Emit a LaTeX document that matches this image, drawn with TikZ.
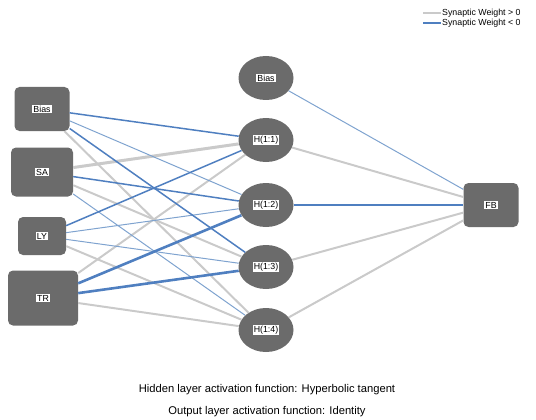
\documentclass[tikz,border=0pt]{standalone}
\usepackage{fontspec}
\setmainfont{Liberation Sans}
\usetikzlibrary{shapes.geometric}
\definecolor{nodegray}{HTML}{6B6B6B}
\definecolor{posw}{HTML}{CACACA}
\definecolor{negw}{HTML}{4F7FC0}
\definecolor{negl}{HTML}{7FA3CF}
\begin{document}
\begin{tikzpicture}[x=1pt,y=-1pt,
  inbox/.style={fill=nodegray, draw=none, rounded corners=5pt, inner sep=0pt},
  hid/.style={ellipse, fill=nodegray, draw=none, minimum width=55pt, minimum height=44pt, inner sep=0pt},
  lab/.style={fill=white, inner sep=1pt, font=\fontsize{8.8}{9}\selectfont},
  pthick/.style={posw, line width=3pt},
  pmed/.style={posw, line width=2pt},
  nthick/.style={negw, line width=2.6pt},
  nmed/.style={negw, line width=1.5pt},
  nthin/.style={negl, line width=1pt},
  legtext/.style={anchor=west, inner sep=1pt, font=\fontsize{8.8}{9}\selectfont},
  captext/.style={inner sep=0pt, font=\fontsize{11.2}{12}\selectfont}
]
\useasboundingbox (0,0) rectangle (536,420);
% input layer
\node[inbox, minimum width=55pt, minimum height=44pt] (ib) at (42,109) {};
\node[inbox, minimum width=62pt, minimum height=49pt] (sa) at (42,172) {};
\node[inbox, minimum width=48pt, minimum height=38pt] (ly) at (42,236) {};
\node[inbox, minimum width=70pt, minimum height=55pt] (tr) at (43,298) {};
% hidden layer
\node[hid] (hb) at (266,78) {};
\node[hid] (h1) at (266,140) {};
\node[hid] (h2) at (266,205) {};
\node[hid] (h3) at (266,267) {};
\node[hid] (h4) at (266,330) {};
% output
\node[inbox, minimum width=55pt, minimum height=44pt] (fb) at (491,205) {};
% connections input -> hidden
\draw[pmed] (ib) -- (h4);
\draw[pthick] (sa) -- (h1);
\draw[pmed] (sa) -- (h3);
\draw[pmed] (ly) -- (h4);
\draw[pmed] (tr) -- (h1);
\draw[pmed] (tr) -- (h4);
\draw[nthin] (ib) -- (h2);
\draw[nthin] (sa) -- (h4);
\draw[nthin] (ly) -- (h2);
\draw[nthin] (ly) -- (h3);
\draw[nmed] (ib) -- (h1);
\draw[nmed] (ib) -- (h3);
\draw[nmed] (sa) -- (h2);
\draw[nmed] (ly) -- (h1);
\draw[nthick] (tr) -- (h2);
\draw[nthick] (tr) -- (h3);
% hidden -> output
\draw[nthin] (hb) -- (fb);
\draw[pmed] (h1) -- (fb);
\draw[nthick] (h2) -- (fb);
\draw[pmed] (h3) -- (fb);
\draw[pmed] (h4) -- (fb);
% labels
\node[lab] (ibl) at (ib) {Bias};
\node[lab] (sal) at (sa) {SA};
\node[lab] (lyl) at (ly) {LY};
\node[lab] (trl) at (tr) {TR};
\node[lab] (hbl) at (hb) {Bias};
\node[lab] (h1l) at (h1) {H(1:1)};
\node[lab] (h2l) at (h2) {H(1:2)};
\node[lab] (h3l) at (h3) {H(1:3)};
\node[lab] (h4l) at (h4) {H(1:4)};
\node[lab] (fbl) at (fb) {FB};
% legend
\coordinate (lg1a) at (423,13);
\coordinate (lg1b) at (441,13);
\coordinate (lg2a) at (423,23);
\coordinate (lg2b) at (441,23);
\draw[posw, line width=2pt] (lg1a) -- (lg1b);
\draw[negw, line width=2pt] (lg2a) -- (lg2b);
\node[legtext] (lgt1) at (lg1b) {Synaptic Weight > 0};
\node[legtext] (lgt2) at (lg2b) {Synaptic Weight < 0};
% captions
\node[captext] (cap1) at (267,390) {Hidden layer activation function: Hyperbolic tangent};
\node[captext] (cap2) at (267,412) {Output layer activation function: Identity};
\end{tikzpicture}
\end{document}
